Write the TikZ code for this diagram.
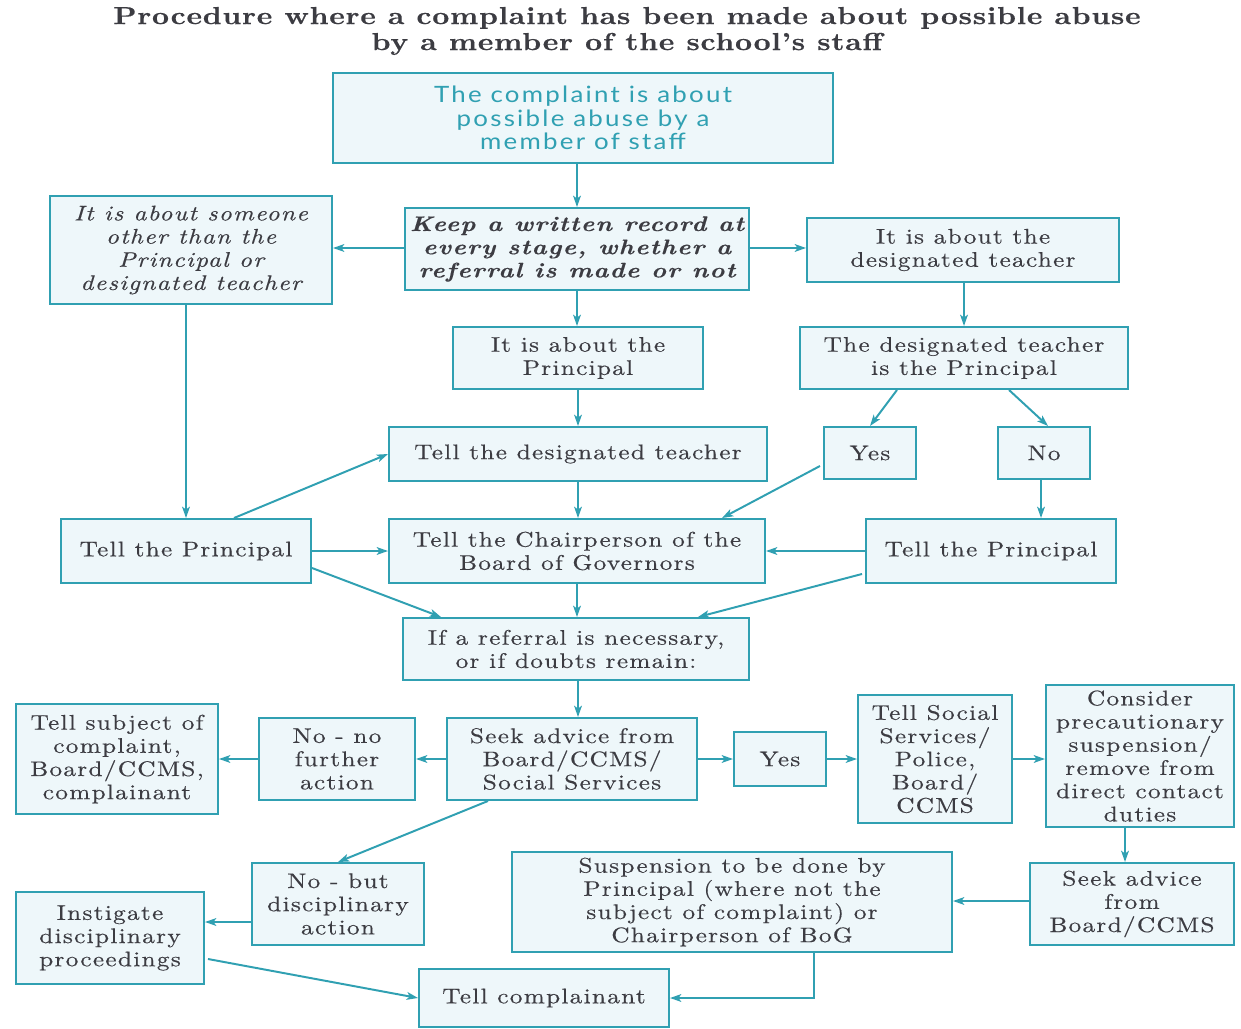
\documentclass[tikz,border=0pt]{standalone}
\usepackage{fontspec}
\setmainfont{lmroman10-regular.otf}[
    BoldFont=lmroman10-bold.otf,
    ItalicFont=lmroman10-italic.otf,
    BoldItalicFont=lmroman10-bolditalic.otf,
    FakeStretch=1.2, LetterSpace=6, FakeBold=0.4]
\newfontfamily\sansbox{Lato}[FakeStretch=1.15, LetterSpace=10]
\usetikzlibrary{arrows.meta,calc}

\definecolor{lineteal}{RGB}{48,160,178}
\definecolor{boxfill}{RGB}{238,247,250}
\definecolor{inkgrey}{RGB}{60,60,66}

\begin{document}
\begin{tikzpicture}[
    x=0.025cm, y=-0.025cm,
    box/.style={draw=lineteal, line width=1.4pt, fill=boxfill, inner sep=0pt,
        align=center, text=inkgrey, font=\fontsize{15}{16.5}\selectfont},
    flow/.style={draw=lineteal, line width=1.4pt,
        -{Stealth[length=8pt,width=5.5pt,inset=2pt]}},
    title/.style={align=center, text=inkgrey,
        font=\bfseries\fontsize{17.5}{18.5}\selectfont\addfontfeatures{LetterSpace=3}}
]
\useasboundingbox (0,0) rectangle (1241,1029);

% Helper macro for a box of given size at its centre
\newcommand{\flowbox}[6]{% name, x, y, width, height, text
    \node[box, minimum width=#4*0.025cm, minimum height=#5*0.025cm] (#1) at (#2,#3) {#6};
}

% Heading
\node[title] (title) at (627,31) {Procedure where a complaint has been made about possible abuse\\by a member of the school's staff};

% Row 1: the complaint
\node[box, minimum width=12.5cm, minimum height=2.25cm, text=lineteal,
    font=\sansbox\fontsize{16}{16.5}\selectfont] (complaint) at (583,118)
    {The complaint is about\\possible abuse by a\\member of staff};

% Row 2: record, who it is about
\flowbox{record}{577}{249}{344}{82}{\bfseries\itshape Keep a written record at\\\bfseries\itshape every stage, whether a\\\bfseries\itshape referral is made or not}
\flowbox{other}{191}{250}{282}{108}{\itshape It is about someone\\\itshape other than the\\\itshape Principal or\\\itshape designated teacher}
\flowbox{aboutdt}{963}{250}{312}{64}{It is about the\\designated teacher}

% Row 3
\flowbox{aboutp}{578}{358}{250}{62}{It is about the\\Principal}
\flowbox{dtisp}{964}{358}{328}{62}{The designated teacher\\is the Principal}

% Row 4
\flowbox{telldt}{578}{454}{378}{54}{Tell the designated teacher}
\flowbox{yes1}{870}{453}{92}{52}{Yes}
\flowbox{no1}{1044}{453}{92}{52}{No}

% Row 5
\flowbox{tellp1}{186}{551}{250}{64}{Tell the Principal}
\flowbox{chair}{577}{551}{376}{64}{Tell the Chairperson of the\\Board of Governors}
\flowbox{tellp2}{991}{551}{250}{64}{Tell the Principal}

% Row 6
\flowbox{referral}{576}{649}{346}{62}{If a referral is necessary,\\or if doubts remain:}

% Row 7: advice and outcomes
\flowbox{seek}{572}{759}{250}{82}{Seek advice from\\Board/CCMS/\\Social Services}
\flowbox{nono}{337}{759}{156}{82}{No - no\\further\\action}
\flowbox{tellsubj}{117}{759}{202}{110}{Tell subject of\\complaint,\\Board/CCMS,\\complainant}
\flowbox{yes2}{780}{759}{92}{54}{Yes}
\flowbox{tellss}{935}{759}{154}{128}{Tell Social\\Services/\\Police,\\Board/\\CCMS}
\flowbox{consider}{1140}{756}{188}{142}{Consider\\precautionary\\suspension/\\remove from\\direct contact\\duties}

% Row 8
\flowbox{nobut}{338}{904}{172}{82}{No - but\\disciplinary\\action}
\flowbox{instigate}{110}{938}{188}{92}{Instigate\\disciplinary\\proceedings}
\flowbox{suspension}{732}{902}{440}{100}{Suspension to be done by\\Principal (where not the\\subject of complaint) or\\Chairperson of BoG}
\flowbox{seekb}{1132}{904}{204}{82}{Seek advice\\from\\Board/CCMS}
\flowbox{tellc}{544}{998}{250}{58}{Tell complainant}

% Connectors, top part
\draw[flow] (record.north |- complaint.south) -- (record.north);
\draw[flow] (record.west |- 0,248) -- (other.east |- 0,248);
\draw[flow] (record.east |- 0,248) -- (aboutdt.west |- 0,248);
\draw[flow] (record.south) -- (record.south |- aboutp.north);
\draw[flow] (dtisp.north |- aboutdt.south) -- (dtisp.north);
\draw[flow] (aboutp.south) -- (aboutp.south |- telldt.north);
\draw[flow] ($(dtisp.south)+(-67,0)$) -- (yes1.north);
\draw[flow] ($(dtisp.south)+(45,0)$) -- ($(no1.north)+(4,0)$);

% Connectors, middle part
\draw[flow] (tellp1.north |- other.south) -- (tellp1.north);
\draw[flow] ($(tellp1.north)+(48,0)$) -- (telldt.west);
\draw[flow] (tellp1.east) -- (chair.west);
\draw[flow] ($(tellp1.east)+(0,17)$) -- ($(referral.north)+(-135,0)$);
\draw[flow] (telldt.south) -- (telldt.south |- chair.north);
\draw[flow] ($(yes1.south west)+(-3,-14)$) -- ($(chair.north)+(145,0)$);
\draw[flow] ($(no1.south)+(-3,0)$) -- ($(no1.south |- tellp2.north)+(-3,0)$);
\draw[flow] (tellp2.west) -- (chair.east);
\draw[flow] ($(tellp2.south west)+(-3,-10)$) -- ($(referral.north)+(122,0)$);
\draw[flow] (chair.south) -- (chair.south |- referral.north);
\draw[flow] ($(referral.south)+(2,0)$) -- ($(referral.south |- seek.north)+(2,0)$);

% Connectors, lower part
\draw[flow] (seek.west) -- (nono.east);
\draw[flow] (nono.west) -- (tellsubj.east);
\draw[flow] (seek.east) -- (yes2.west);
\draw[flow] (yes2.east) -- (tellss.west);
\draw[flow] (tellss.east) -- (tellss.east -| consider.west);
\draw[flow] ($(consider.south)+(-15,0)$) -- ($(consider.south |- seekb.north)+(-15,0)$);
\draw[flow] (seekb.west |- 0,901) -- (suspension.east |- 0,901);
\draw[flow] ($(seek.south)+(-84,0)$) -- (nobut.north);
\draw[flow] (nobut.west |- 0,922) -- (instigate.east |- 0,922);
\draw[flow] ($(instigate.east)+(3,21)$) -- (tellc.west);
\draw[flow] ($(suspension.south)+(82,0)$) |- (tellc.east);

\end{tikzpicture}
\end{document}
